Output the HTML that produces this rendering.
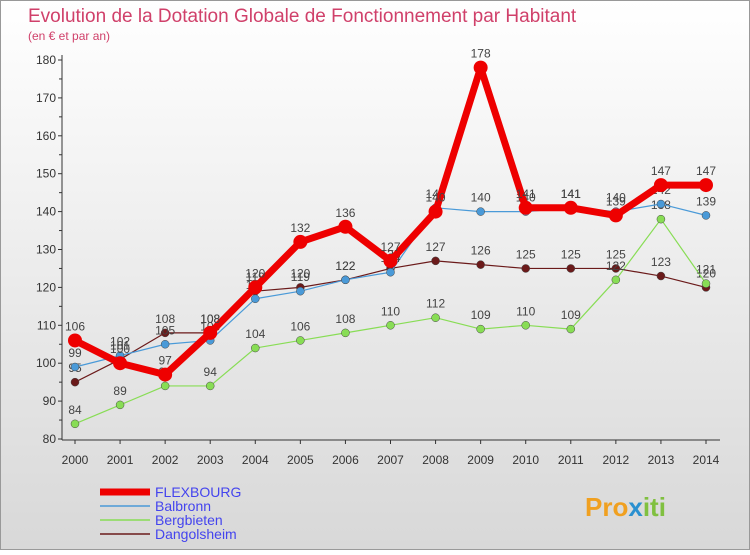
<!DOCTYPE html>
<html><head><meta charset="utf-8"><style>
body{margin:0;background:#fff}
svg{font-family:"Liberation Sans",sans-serif}
</style></head><body>
<svg width="750" height="550" viewBox="0 0 750 550">
<defs><linearGradient id="bg" x1="0" y1="0" x2="0" y2="1"><stop offset="0" stop-color="#ffffff"/><stop offset="1" stop-color="#d8d8d8"/></linearGradient></defs>
<rect x="0.5" y="0.5" width="749" height="549" fill="url(#bg)" stroke="#999"/>
<text x="28" y="22" font-size="19" fill="#d0406a">Evolution de la Dotation Globale de Fonctionnement par Habitant</text>
<text x="28" y="40" font-size="12" fill="#d0406a">(en € et par an)</text>
<g id="axes"></g>
<g id="series"></g>
<g id="legend"></g>
<text x="585" y="516" font-size="26" font-weight="bold" fill="#f0a020">Pro<tspan fill="#2a90d0">x</tspan><tspan fill="#80c040">iti</tspan></text>
</svg>
<script>
const years=[2000,2001,2002,2003,2004,2005,2006,2007,2008,2009,2010,2011,2012,2013,2014];
const flexbourg=[106,100,97,108,120,132,136,127,140,178,141,141,139,147,147];
const balbronn=[99,102,105,106,117,119,122,124,141,140,140,141,140,142,139];
const bergbieten=[84,89,94,94,104,106,108,110,112,109,110,109,122,138,121];
const dangolsheim=[95,101,108,108,119,120,122,125,127,126,125,125,125,123,120];
const yTicks=[80,90,100,110,120,130,140,150,160,170,180];
const NS="http://www.w3.org/2000/svg";
const X=i=>75+i*(706-75)/(years.length-1);
const Y=v=>439-(v-80)*(439-60)/100;
function mk(t,a,p){const e=document.createElementNS(NS,t);for(const k in a)e.setAttribute(k,a[k]);p.appendChild(e);return e;}
const ax=document.getElementById('axes');
let l=mk('line',{x1:62,y1:55,x2:62,y2:440,stroke:'#333'},ax);


l=mk('line',{x1:62,y1:440,x2:720,y2:440,stroke:'#333'},ax);


yTicks.forEach(v=>{
 const t=mk('text',{x:56,y:Y(v)+4,'font-size':12,'text-anchor':'end',fill:'#333'},ax);t.textContent=v;
 
 
 mk('line',{x1:58,y1:Y(v),x2:62,y2:Y(v),stroke:'#333'},ax);
 if(v<180) mk('line',{x1:59,y1:Y(v+5),x2:62,y2:Y(v+5),stroke:'#333'},ax);
});
years.forEach((y,i)=>{
 const t=mk('text',{x:X(i),y:464,'font-size':12,'text-anchor':'middle',fill:'#333'},ax);t.textContent=y;
 
 
 mk('line',{x1:X(i),y1:440,x2:X(i),y2:444,stroke:'#333'},ax);
});
const series=[
 {n:'Dangolsheim',d:dangolsheim,c:'#6b1a1a',w:1.2,r:4},
 {n:'Bergbieten',d:bergbieten,c:'#88dd55',w:1.2,r:4},
 {n:'Balbronn',d:balbronn,c:'#4a9ad8',w:1.2,r:4},
 {n:'FLEXBOURG',d:flexbourg,c:'#ee0000',w:7,r:7}];
const sg=document.getElementById('series');
series.forEach(s=>{
 const g=mk('g',{},sg);
 
 
 const p=mk('polyline',{points:s.d.map((v,i)=>X(i)+','+Y(v)).join(' '),fill:'none',stroke:s.c,'stroke-width':s.w,'stroke-linejoin':'round'},g);
 s.d.forEach((v,i)=>{
  const c=mk('circle',{cx:X(i),cy:Y(v),r:s.r,fill:s.c,stroke:s.r>5?'none':'#444','stroke-width':0.5},g);
  
  
  const t=mk('text',{x:X(i),y:Y(v)-10,'font-size':12,'text-anchor':'middle',fill:'#444'},g);t.textContent=v;
 });
});
const lg=document.getElementById('legend');
[...series].reverse().forEach((s,i)=>{
 const y=492+i*14;
 const g=mk('g',{},lg);
 
 
 mk('line',{x1:100,y1:y,x2:150,y2:y,stroke:s.c,'stroke-width':s.w>3?7:1.5},g);
 const t=mk('text',{x:155,y:y+5,'font-size':14,fill:'#4444ee'},g);t.textContent=s.n;
});
</script>
</body></html>
